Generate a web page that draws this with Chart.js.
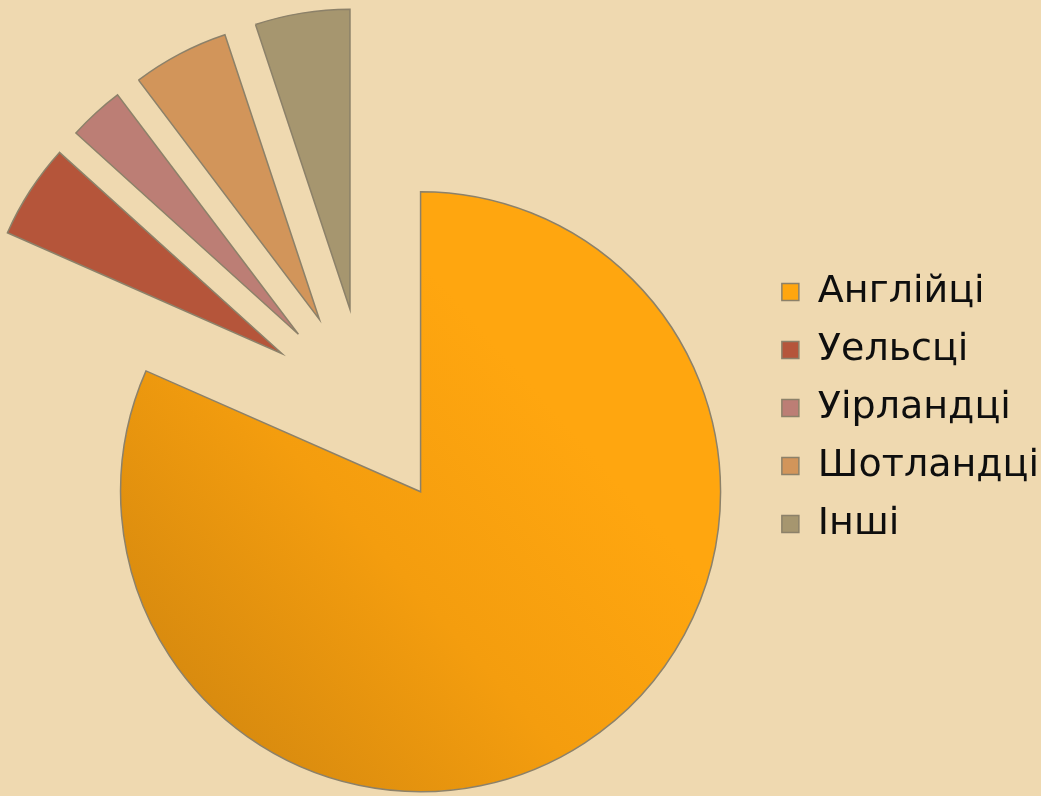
<!DOCTYPE html>
<html>
<head>
<meta charset="utf-8">
<script src="https://cdn.jsdelivr.net/npm/chart.js@4/dist/chart.umd.min.js"></script>
<style>
    html, body {
        margin: 0;
        padding: 0;
        width: 1041px;
        height: 796px;
        overflow: hidden;
        background: #EFD9B0;
    }
    #wrap {
        position: absolute;
        left: -30px;
        top: 0;
        width: 1079px;
        height: 796px;
    }
</style>
</head>
<body>
<div id="wrap"><canvas id="peoplesChart"></canvas></div>
<script>
// Population shares (%)
const groups = ['Англійці', 'Уельсці', 'Уірландці', 'Шотландці', 'Інші'];
const shares = [81.6, 5.1, 3.0, 5.2, 5.1];
const sliceColors = ['#FBA40F', '#B5553A', '#BC7E75', '#D2955A', '#A6966F'];

const pieRadius = 300;
const explode = 400; // chart.js moves a slice by offset / 4

// chart.js grows an offset slice's radius and trims its angle to keep gaps;
// undo both so every slice keeps pieRadius and its true share of the circle
const keepGeometry = {
    id: 'keepGeometry',
    afterDatasetUpdate(chart, args) {
        args.meta.data.forEach(arc => {
            const grow = (explode / 4) * (1 - Math.sin(Math.min(Math.PI, arc.circumference)));
            arc.outerRadius = pieRadius - grow;
            const trim = grow / (2 * Math.PI * pieRadius);
            arc.startAngle -= trim;
            arc.endAngle += trim;
        });
    }
};

const ctx = document.getElementById('peoplesChart').getContext('2d');

new Chart(ctx, {
    type: 'pie',
    data: {
        labels: groups,
        datasets: [{
            data: shares,
            backgroundColor: function(c) {
                if (c.dataIndex !== 0) {
                    return sliceColors[c.dataIndex];
                }
                // Excel-like shading on the big slice: darker towards lower left
                const g = c.chart.ctx.createLinearGradient(190, 690, 560, 360);
                g.addColorStop(0, '#D4880F');
                g.addColorStop(0.55, '#F49D0E');
                g.addColorStop(1, '#FFA60F');
                return g;
            },
            borderColor: '#8C8169',
            borderWidth: 1.5,
            borderJoinStyle: 'miter',
            offset: explode,
            hoverOffset: explode
        }]
    },
    options: {
        responsive: true,
        maintainAspectRatio: false,
        animation: false,
        events: [],
        radius: pieRadius,
        layout: {
            padding: { top: 20, left: 0, right: 0, bottom: 0 }
        },
        plugins: {
            legend: {
                position: 'right',
                labels: {
                    color: '#0E0E0E',
                    boxWidth: 17,
                    boxHeight: 17,
                    padding: 20,
                    font: {
                        family: 'DejaVu Sans',
                        size: 38
                    }
                }
            },
            tooltip: { enabled: false }
        }
    },
    plugins: [keepGeometry]
});
</script>
</body>
</html>
